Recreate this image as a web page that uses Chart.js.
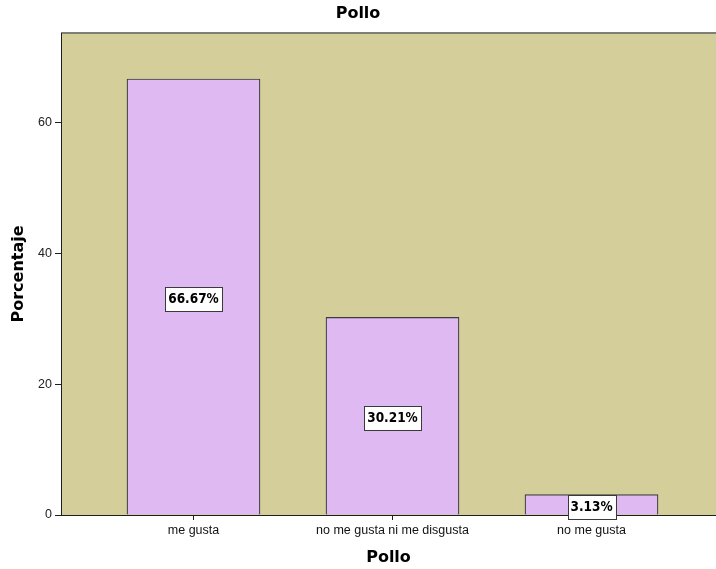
<!DOCTYPE html>
<html><head><meta charset="utf-8">
<script src="https://cdn.jsdelivr.net/npm/chart.js@4/dist/chart.umd.min.js"></script>
<style>html,body{margin:0;padding:0;background:#fff;} #wrap{width:716px;height:569px;}</style>
</head><body><div id="wrap"><canvas id="c" width="716" height="569"></canvas></div>
<script>
const categories = ["me gusta", "no me gusta ni me disgusta", "no me gusta"];
const percentages = [66.67, 30.21, 3.13];
const valueLabels = ["66.67%", "30.21%", "3.13%"];
const yTicks = [0, 20, 40, 60];
const xTicks = [0, 1, 2];
const chartTitle = "Pollo";
const xTitle = "Pollo";
const yTitle = "Porcentaje";

const PLOT_BG = '#D3CE9A';
const BAR_FILL = '#DFB9F1';
const DARK = '#1e1e1e';

const bgPlugin = {
  id: 'bg',
  beforeDraw(chart) {
    const {ctx, chartArea: a} = chart;
    ctx.save();
    ctx.fillStyle = '#fff';
    ctx.fillRect(0, 0, chart.width, chart.height);
    ctx.fillStyle = PLOT_BG;
    ctx.fillRect(a.left, a.top, a.right - a.left, a.bottom - a.top);
    ctx.strokeStyle = '#7f7f78';
    ctx.lineWidth = 2;
    ctx.beginPath();
    ctx.moveTo(a.left, a.top);
    ctx.lineTo(a.right, a.top);
    ctx.stroke();
    ctx.restore();
  }
};

const labelPlugin = {
  id: 'valueBoxes',
  afterDatasetsDraw(chart) {
    const {ctx} = chart;
    const meta = chart.getDatasetMeta(0);
    ctx.save();
    ctx.font = 'bold 13.5px "DejaVu Sans Condensed", "DejaVu Sans", sans-serif';
    ctx.textAlign = 'center';
    ctx.textBaseline = 'middle';
    meta.data.forEach((bar, i) => {
      const p = bar.getProps(['x', 'y', 'base'], true);
      const cy = (p.y + p.base) / 2 + 2.5;
      const txt = valueLabels[i];
      const w = Math.round(ctx.measureText(txt).width + 6);
      const h = 24;
      const x0 = Math.round(p.x - w / 2) + 0.5;
      const y0 = Math.round(cy - h / 2) + 0.5;
      ctx.fillStyle = '#fff';
      ctx.fillRect(x0, y0, w, h);
      ctx.strokeStyle = '#3a3a3a';
      ctx.lineWidth = 1;
      ctx.strokeRect(x0, y0, w, h);
      ctx.fillStyle = '#000';
      ctx.fillText(txt, p.x, cy + 0.5);
    });
    ctx.restore();
  }
};

new Chart(document.getElementById('c'), {
  type: 'bar',
  data: {
    datasets: [{
      data: percentages.map((v, i) => ({x: xTicks[i], y: v})),
      backgroundColor: BAR_FILL,
      borderColor: '#3c3c3c',
      borderWidth: 1.2,
      barThickness: 133
    }]
  },
  options: {
    responsive: false,
    animation: false,
    layout: {padding: 0},
    plugins: {
      legend: {display: false},
      tooltip: {enabled: false},
      title: {
        display: true,
        text: chartTitle,
        color: '#000',
        font: {family: '"DejaVu Sans", sans-serif', size: 16, weight: 'bold'},
        padding: {top: 4.5, bottom: 9.3}
      }
    },
    scales: {
      x: {
        type: 'linear',
        min: -0.6658,
        max: 2.6256,
        offset: false,
        afterBuildTicks: s => { s.ticks = xTicks.map(v => ({value: v})); },
        afterFit: s => { s.height = 54; },
        ticks: {
          autoSkip: false,
          maxRotation: 0,
          padding: 3.5,
          color: '#111',
          font: {family: '"Liberation Sans", Arial, sans-serif', size: 12.5},
          callback: v => categories[v]
        },
        grid: {offset: false, drawOnChartArea: false, drawTicks: true, tickLength: 5, color: DARK},
        border: {display: true, color: DARK, width: 1},
        title: {
          display: true,
          text: xTitle,
          color: '#000',
          font: {family: '"DejaVu Sans", sans-serif', size: 16, weight: 'bold'},
          padding: {top: 0, bottom: 1.4}
        }
      },
      y: {
        type: 'linear',
        min: 0,
        max: 73.7,
        afterBuildTicks: s => { s.ticks = yTicks.map(v => ({value: v})); },
        afterFit: s => { s.width = 61; },
        ticks: {
          padding: 3,
          color: '#222',
          font: {family: '"Liberation Sans", Arial, sans-serif', size: 12.5}
        },
        grid: {drawOnChartArea: false, drawTicks: true, tickLength: 6, color: DARK},
        border: {display: true, color: DARK, width: 1},
        title: {
          display: true,
          text: yTitle,
          color: '#000',
          font: {family: '"DejaVu Sans", sans-serif', size: 16, weight: 'bold'},
          padding: {top: 9.5, bottom: 0}
        }
      }
    }
  },
  plugins: [bgPlugin, labelPlugin]
});
</script>
</body></html>
